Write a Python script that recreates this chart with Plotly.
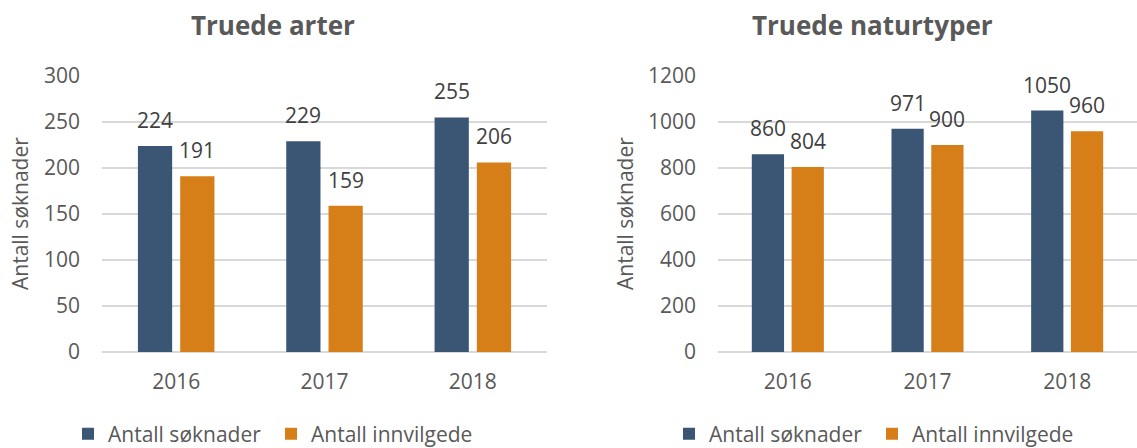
import plotly.graph_objects as go

years = ["2016", "2017", "2018"]
arter_soknader = [224, 229, 255]
arter_innvilgede = [191, 159, 206]
natur_soknader = [860, 971, 1050]
natur_innvilgede = [804, 900, 960]
series_names = ["Antall søknader", "Antall innvilgede"]
titles = ["Truede arter", "Truede naturtyper"]
y_title = "Antall søknader"
arter_ticks = [0, 50, 100, 150, 200, 250, 300]
natur_ticks = [0, 200, 400, 600, 800, 1000, 1200]

W, H = 1137, 448
BLUE = "#3A5674"
ORANGE = "#D67F18"
FONT = "Open Sans"
BARGAP = 0.43
GROUPGAP = 0.19

def px(x):
    return x / W

def py(y):
    return 1 - y / H

dom_l = [px(102), px(547)]
dom_r = [px(718), 1.0]
ydom = [py(352), py(76)]

fig = go.Figure()
fig.add_bar(x=years, y=arter_soknader, name=series_names[0], marker_color=BLUE,
            xaxis="x", yaxis="y", legend="legend", marker_line_width=0)
fig.add_bar(x=years, y=arter_innvilgede, name=series_names[1], marker_color=ORANGE,
            xaxis="x", yaxis="y", legend="legend", marker_line_width=0)
fig.add_bar(x=years, y=natur_soknader, name=series_names[0], marker_color=BLUE,
            xaxis="x2", yaxis="y2", legend="legend2", marker_line_width=0)
fig.add_bar(x=years, y=natur_innvilgede, name=series_names[1], marker_color=ORANGE,
            xaxis="x2", yaxis="y2", legend="legend2", marker_line_width=0)

annotations = []
def add_labels(xref, yref, dom, s1, s2):
    cat_w = (dom[1] - dom[0]) * W / len(years)
    off = cat_w * (1 - BARGAP) / 4
    for i, v in enumerate(s1):
        annotations.append(dict(x=i, y=v, xref=xref, yref=yref, text=str(v), showarrow=False,
                                xshift=-off, yshift=26, yanchor="middle",
                                font=dict(family=FONT, size=21, color="#404040")))
    for i, v in enumerate(s2):
        annotations.append(dict(x=i, y=v, xref=xref, yref=yref, text=str(v), showarrow=False,
                                xshift=off, yshift=26, yanchor="middle",
                                font=dict(family=FONT, size=21, color="#404040")))

add_labels("x", "y", dom_l, arter_soknader, arter_innvilgede)
add_labels("x2", "y2", dom_r, natur_soknader, natur_innvilgede)

# titles
annotations.append(dict(x=px(273), y=py(25), xref="paper", yref="paper", text="<b>" + titles[0] + "</b>",
                        showarrow=False, xanchor="center", yanchor="middle",
                        font=dict(family=FONT, size=26, color="#595959")))
annotations.append(dict(x=px(873), y=py(25), xref="paper", yref="paper", text="<b>" + titles[1] + "</b>",
                        showarrow=False, xanchor="center", yanchor="middle",
                        font=dict(family=FONT, size=26, color="#595959")))
# y axis titles
for xc in (20, 625):
    annotations.append(dict(x=px(xc), y=py(214), xref="paper", yref="paper", text=y_title,
                            showarrow=False, textangle=-90, xanchor="center", yanchor="middle",
                            font=dict(family=FONT, size=21, color="#595959")))

axis_common = dict(tickfont=dict(family=FONT, size=21, color="#595959"), automargin=False)
xaxis_common = dict(type="category", range=[-0.5, 2.5], showgrid=False, showline=False, ticks="",
                    zeroline=False, ticklabelstandoff=15, **axis_common)
yaxis_common = dict(showgrid=True, gridcolor="#D9D9D9", gridwidth=1.5, zeroline=True,
                    zerolinecolor="#D9D9D9", zerolinewidth=1.5, showline=False, ticks="",
                    ticklabelstandoff=21, **axis_common)

legend_common = dict(orientation="h", xanchor="left", yanchor="middle", y=py(434),
                     font=dict(family=FONT, size=21, color="#595959"),
                     bgcolor="rgba(0,0,0,0)", itemclick=False, itemdoubleclick=False,
                     entrywidth=158, traceorder="normal")

fig.update_layout(
    width=W, height=H,
    margin=dict(l=0, r=0, t=0, b=0, autoexpand=False),
    paper_bgcolor="white", plot_bgcolor="white",
    barmode="group", bargap=BARGAP, bargroupgap=GROUPGAP,
    showlegend=True,
    xaxis=dict(domain=dom_l, anchor="y", **xaxis_common),
    yaxis=dict(domain=ydom, anchor="x", range=[0, 300], tickvals=arter_ticks, **yaxis_common),
    xaxis2=dict(domain=dom_r, anchor="y2", **xaxis_common),
    yaxis2=dict(domain=ydom, anchor="x2", range=[0, 1200], tickvals=natur_ticks, **yaxis_common),
    legend=dict(x=px(68), **legend_common),
    legend2=dict(x=px(669), **legend_common),
    annotations=annotations,
)

fig.write_html("out.html", config={"displayModeBar": False, "staticPlot": True},
               post_script="document.body.style.margin='0';document.body.style.overflow='hidden';")
